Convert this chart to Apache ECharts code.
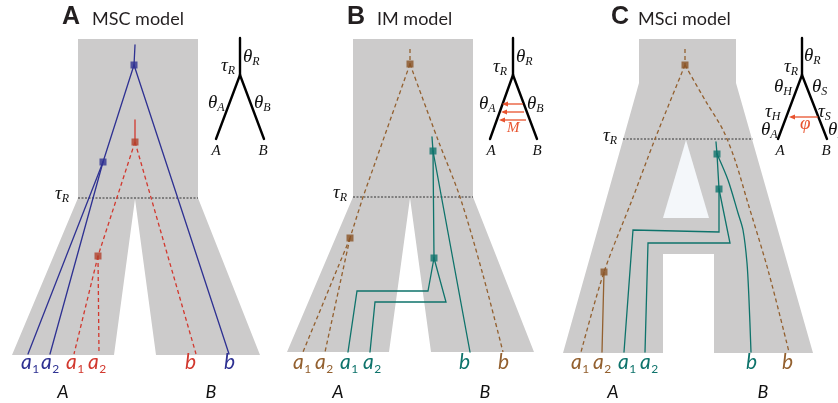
<!DOCTYPE html>
<html><head><meta charset="utf-8">
<script src="https://cdn.jsdelivr.net/npm/echarts@6/dist/echarts.min.js"></script>
<style>html,body{margin:0;padding:0;background:#fff}#c{width:838px;height:403px}</style>
</head><body><div id="c"></div>
<script>
// ================= DATA =================
// species-tree outlines (data units = picture pixels)
const speciesA = [[78,39],[198,39],[198,198],[260,355],[156,355],[135,199],[114,355],[12,355],[78,198]];
const speciesB = [[353,39],[473,39],[473,197],[534,352],[431,352],[410,198],[389,352],[287,352],[353,197]];
const speciesC = [[639,39],[736,39],[736,83],[813,353],[714,353],[714,254],[663,254],[663,353],[563,353],[639,83]];
const hybridHoleC = [[686,140],[709,218],[663,218]];

// tau_R divergence-time lines
const tauLines = [[[78,198],[198,198]],[[353,197],[473,197]],[[623,139],[753,139]]];

// gene trees
const blueA = [[[135,45],[134,65]],[[134,65],[103,162]],[[134,65],[229,354]],[[103,162],[28,354]],[[103,162],[50,354]]];
const redStubA = [[[135,120],[135,142]]];
const redA = [[[135,142],[196,354]],[[135,142],[98,256]],[[98,256],[74,354]],[[98,256],[99,354]]];
const brownB = [[[410,49],[410,64]],[[410,64],[363,197],[350,238]],[[350,238],[303,352]],[[350,238],[325,352]]];
const brownCurveB = [[[410,64],[438,140],[460,197],[483,275],[503,352]]];
const tealB = [[[432,137],[433,151]],[[433,151],[470,352]],[[433,151],[434,258]],
  [[434,258],[428,291],[357,291],[348,352]],[[434,258],[446,302],[375,302],[370,352]]];
const brownC = [[[685,49],[685,65]]];
const brownCurveC = [[[685,65],[655,139],[632,200],[604,272],[581,352]],
  [[685,65],[705,100],[723,130],[735,160],[747,200],[768,270],[789,352]]];
const brownSolidC = [[[604,272],[602,352]]];
const tealC = [[[716,142],[717,154]],[[717,154],[719,189]],
  [[719,189],[719,232],[633,230],[624,352]],[[719,189],[730,243],[648,243],[645,352]]];
const tealCurveC = [[[717,154],[728,180],[738,213],[743,230],[747,263],[749,300],[751,352]]];

// coalescent nodes
const nodesBlueA = [[134,65],[103,162]];
const nodesRedA = [[135,142],[98,256]];
const nodesBrownB = [[410,64],[350,238]];
const nodesTealB = [[433,151],[434,258]];
const nodesBrownC = [[685,65],[604,272]];
const nodesTealC = [[717,154],[719,189]];

// tip labels: [x, baseline, letter, subscript]
const tipsBlueA = [[21,371,'a','1'],[41,371,'a','2'],[224,371,'b','']];
const tipsRedA = [[66,371,'a','1'],[88,371,'a','2'],[185,371,'b','']];
const tipsBrownB = [[293,371,'a','1'],[315,371,'a','2'],[498,371,'b','']];
const tipsTealB = [[340,371,'a','1'],[363,371,'a','2'],[459,371,'b','']];
const tipsBrownC = [[571,371,'a','1'],[593,371,'a','2'],[782,371,'b','']];
const tipsTealC = [[618,371,'a','1'],[640,371,'a','2'],[746,371,'b','']];
// species labels: [center x, baseline, text]
const speciesLabels = [[63,399,'A'],[211,399,'B'],[338,399,'A'],[485,399,'B'],[613,399,'A'],[763,399,'B']];
// titles
const titleLetters = [[62,26,'A'],[347,26,'B'],[611,26,'C']];
const titleTexts = [[92,26,'MSC model'],[377,26,'IM model'],[638,26,'MSci model']];

// inset parameter trees
const insetTrees = [
  [[[240,38],[240,75]],[[240,75],[216,139]],[[240,75],[264,139]]],
  [[[513,38],[513,75]],[[513,75],[490,139]],[[513,75],[537,139]]],
  [[[802,38],[802,75]],[[802,75],[778,139]],[[802,75],[827,139]]]
];
const migrationArrowsB = [[[523,104],[502,104]],[[524,112],[501,112]],[[526,120],[499,120]]];
const introgressionArrowC = [[[818,117],[789,117]]];
// greek labels: [x, baseline, main, subscript]
const greekBlack = [
  [243,63,'θ','R'],[221,72,'τ','R'],[208,109,'θ','A'],[254,109,'θ','B'],
  [516,63,'θ','R'],[493,73,'τ','R'],[479,110,'θ','A'],[527,110,'θ','B'],
  [804,62,'θ','R'],[784,73,'τ','R'],[774,93,'θ','H'],[812,93,'θ','S'],
  [765,118,'τ','H'],[818,118,'τ','S'],[761,136,'θ','A'],[828,136,'θ','B'],
  [55,200,'τ','R'],[333,199,'τ','R'],[603,142,'τ','R']
];
const insetLeafLabels = [[216,156,'A'],[263,156,'B'],[491,156,'A'],[537,156,'B'],[780,156,'A'],[826,156,'B']];
const greekRed = [[507,133,'M',''],[800,130,'φ','']];

// ================= STYLE =================
const GRAY = '#cccbcb', BLUE = '#2e3192', RED = '#d2382e', REDNODE = '#b2402a',
      BROWN = '#93602f', BROWNNODE = '#8a5224', TEAL = '#0e736b', ORANGE = '#e8532e';
const F_TIP = 'italic 21px Lato', F_TIPSUB = '12px Lato', F_SP = 'italic 18px Lato';
const F_GR = 'italic 19px "Liberation Serif"', F_GRSUB = 'italic 12px "Liberation Serif"';
const F_LEAF = 'italic 15px "Liberation Serif"', F_M = 'italic 15px "Liberation Serif"';
const F_LET = 'bold 25px "Liberation Sans"', F_TTL = '18px Lato';

const mctx = document.createElement('canvas').getContext('2d');
function measure(t, font){ mctx.font = font; const m = mctx.measureText(t);
  return {w: m.width, mid: (m.fontBoundingBoxAscent - m.fontBoundingBoxDescent)/2}; }

function textEl(api, x, base, t, font, color, align){
  const p = api.coord([x, base]); const m = measure(t, font);
  return {type:'text', style:{x:p[0], y:p[1]-m.mid, text:t, font:font, fill:color, align:align||'left', verticalAlign:'middle'}};
}
function subText(api, x, base, main, sub, color, f1, f2, dy, gap){
  const els = [textEl(api, x, base, main, f1, color)];
  if (sub){ const w = measure(main, f1).w; const p = api.coord([x, base]);
    const m2 = measure(sub, f2);
    els.push({type:'text', style:{x:p[0]+w+(gap||0), y:p[1]+dy-m2.mid, text:sub, font:f2, fill:color, align:'left', verticalAlign:'middle'}}); }
  return els;
}
function layer(name, z, build){
  return {type:'custom', name:name, z:z, silent:true, clip:false, data:[[0,0]],
    renderItem:(params, api) => ({type:'group', children: build(api)})};
}
function polys(list, fill){ return api => list.map(poly => ({type:'polygon', shape:{points: poly.map(pt => api.coord(pt))}, style:{fill:fill}})); }
function strokes(paths, color, width, dash, smooth){
  return api => paths.map(path => ({type:'polyline', shape:{points: path.map(pt => api.coord(pt)), smooth: smooth||0},
    style:{stroke:color, lineWidth:width, lineDash: dash||null, fill:null, lineCap: dash ? 'butt':'round'}}));
}
function arrows(list, color){
  return api => { const out=[]; list.forEach(a => { const p0=api.coord(a[0]), p1=api.coord(a[1]);
      out.push({type:'line', shape:{x1:p0[0],y1:p0[1],x2:p1[0]+4,y2:p1[1]}, style:{stroke:color,lineWidth:1.3}});
      out.push({type:'polygon', shape:{points:[[p1[0],p1[1]],[p1[0]+6,p1[1]-2.6],[p1[0]+6,p1[1]+2.6]]}, style:{fill:color}}); });
    return out; };
}
function tips(list, color){ return api => list.flatMap(t => subText(api, t[0], t[1], t[2], t[3], color, F_TIP, F_TIPSUB, 3, 0.5)); }
function greek(list, color, f){ return api => list.flatMap(t => subText(api, t[0], t[1], t[2], t[3], color, f || F_GR, F_GRSUB, 3, 0)); }
function nodes(list, color){ return {type:'scatter', z:6, silent:true, symbol:'rect', symbolSize:7, data:list, itemStyle:{color:color}}; }

const series = [
  layer('species', 1, api => polys([speciesA, speciesB, speciesC], GRAY)(api).concat(polys([hybridHoleC], '#f4f7fa')(api))),
  layer('tau', 2, strokes(tauLines, '#333', 1, [2,1.5])),
  layer('blueA', 3, strokes(blueA, BLUE, 1.3)),
  layer('redStubA', 3, strokes(redStubA, RED, 1.3)),
  layer('redA', 3, strokes(redA, RED, 1.3, [4,3])),
  layer('brownB', 3, strokes(brownB, BROWN, 1.3, [4,3])),
  layer('brownCurveB', 3, strokes(brownCurveB, BROWN, 1.3, [4,3], 0.3)),
  layer('tealB', 3, strokes(tealB, TEAL, 1.3)),
  layer('brownC', 3, strokes(brownC, BROWN, 1.3, [4,3])),
  layer('brownCurveC', 3, strokes(brownCurveC, BROWN, 1.3, [4,3], 0.3)),
  layer('brownSolidC', 3, strokes(brownSolidC, BROWN, 1.3)),
  layer('tealC', 3, strokes(tealC, TEAL, 1.3)),
  layer('tealCurveC', 3, strokes(tealCurveC, TEAL, 1.3, null, 0.3)),
  nodes(nodesBlueA, BLUE), nodes(nodesRedA, REDNODE), nodes(nodesBrownB, BROWNNODE),
  nodes(nodesTealB, TEAL), nodes(nodesBrownC, BROWNNODE), nodes(nodesTealC, TEAL),
  layer('insets', 4, api => insetTrees.flatMap(tr => strokes(tr, '#000', 2.4)(api))),
  layer('arrows', 4, api => arrows(migrationArrowsB, ORANGE)(api).concat(arrows(introgressionArrowC, ORANGE)(api))),
  layer('tips', 7, api => [].concat(tips(tipsBlueA, BLUE)(api), tips(tipsRedA, RED)(api), tips(tipsBrownB, BROWN)(api),
      tips(tipsTealB, TEAL)(api), tips(tipsBrownC, BROWN)(api), tips(tipsTealC, TEAL)(api))),
  layer('species-labels', 7, api => speciesLabels.map(s => textEl(api, s[0], s[1], s[2], F_SP, '#111', 'center'))),
  layer('greek', 7, api => greek(greekBlack, '#111')(api)
      .concat(insetLeafLabels.map(s => textEl(api, s[0], s[1], s[2], F_LEAF, '#111', 'center')))
      .concat(textEl(api, greekRed[0][0], greekRed[0][1], greekRed[0][2], F_M, ORANGE))
      .concat(textEl(api, greekRed[1][0], greekRed[1][1], greekRed[1][2], F_GR, ORANGE))),
  layer('titles', 7, api => titleLetters.map(t => textEl(api, t[0], t[1], t[2], F_LET, '#231f20'))
      .concat(titleTexts.map(t => textEl(api, t[0], t[1], t[2], F_TTL, '#231f20'))))
];

const chart = echarts.init(document.getElementById('c'));
chart.setOption({
  animation:false,
  grid:{left:0, right:0, top:0, bottom:0},
  xAxis:{type:'value', min:0, max:838, show:false},
  yAxis:{type:'value', min:0, max:403, inverse:true, show:false},
  series: series
});
</script></body></html>
